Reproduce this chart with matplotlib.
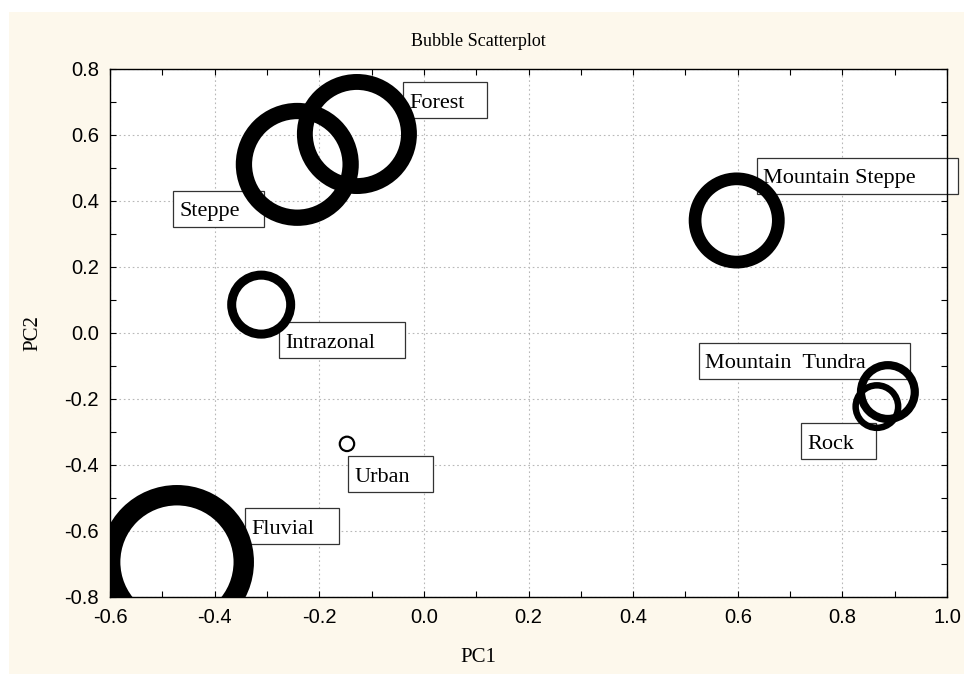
import matplotlib
matplotlib.use("Agg")
import matplotlib.pyplot as plt
from matplotlib.patches import Rectangle
from matplotlib.transforms import IdentityTransform
from matplotlib.ticker import MultipleLocator, FormatStrFormatter

# Habitat groups in the space of the first two principal components
categories = ["Forest", "Steppe", "Mountain Steppe", "Intrazonal", "Urban",
              "Fluvial", "Mountain  Tundra", "Rock"]
pc1 = [-0.128, -0.242, 0.598, -0.311, -0.147, -0.472, 0.887, 0.866]
pc2 = [0.603, 0.511, 0.341, 0.086, -0.336, -0.694, -0.179, -0.223]
bubble_size = [60.0, 61.5, 48.0, 34.0, 8.3, 77.0, 31.0, 24.5]

x_ticks = [-0.6, -0.4, -0.2, 0.0, 0.2, 0.4, 0.6, 0.8, 1.0]
y_ticks = [-0.8, -0.6, -0.4, -0.2, 0.0, 0.2, 0.4, 0.6, 0.8]

# Label box placement relative to each bubble centre, in pixels:
# (left edge of box, vertical centre of box); y measured upwards
label_offsets = {
    "Forest": (46, 34),
    "Steppe": (-124, -44.5),
    "Mountain Steppe": (20.5, 44.5),
    "Intrazonal": (18, -35.5),
    "Urban": (1.3, -30.5),
    "Fluvial": (68, 36),
    "Mountain  Tundra": (-188.5, 31.5),
    "Rock": (-75.5, -34.5),
}

W, H, DPI = 964, 674, 100
PX2PT = 72.0 / DPI
BG = "#FDF8EC"
SERIF = ["Liberation Serif", "DejaVu Serif"]
SANS = ["Liberation Sans", "DejaVu Sans"]

fig = plt.figure(figsize=(W / DPI, H / DPI), dpi=DPI, facecolor="white")
# beige graph window
fig.add_artist(Rectangle((9 / W, 0), 1 - 9 / W, 1 - 12 / H, transform=fig.transFigure,
                         facecolor=BG, edgecolor="none", zorder=-10))

left, right, top, bottom = 110, 947, 69, 597
ax = fig.add_axes([left / W, 1 - bottom / H, (right - left) / W, (bottom - top) / H])
ax.set_facecolor("white")
ax.set_xlim(-0.6, 1.0)
ax.set_ylim(-0.8, 0.8)

ax.set_xticks(x_ticks)
ax.set_yticks(y_ticks)
ax.xaxis.set_minor_locator(MultipleLocator(0.1))
ax.yaxis.set_minor_locator(MultipleLocator(0.1))
ax.xaxis.set_major_formatter(FormatStrFormatter("%.1f"))
ax.yaxis.set_major_formatter(FormatStrFormatter("%.1f"))
ax.tick_params(which="both", direction="in", top=True, right=True, color="black", width=0.8)
ax.tick_params(which="major", length=4, labelsize=14.5, pad=8)
ax.tick_params(which="minor", length=4)
for lab in ax.get_xticklabels() + ax.get_yticklabels():
    lab.set_family(SANS)
ax.grid(True, which="major", linestyle=(0, (1.5, 2.5)), color="#b8b8b8", linewidth=0.8)
ax.set_axisbelow(True)
for sp in ax.spines.values():
    sp.set_color("black")
    sp.set_linewidth(1.0)

# bubbles: thick open rings whose outer radius follows the bubble size
for x, y, r in zip(pc1, pc2, bubble_size):
    thick = 0.265 * r
    mid_r = r - thick / 2
    ax.scatter([x], [y], s=(2 * mid_r * PX2PT) ** 2, marker="o", facecolors="none",
               edgecolors="black", linewidths=thick * PX2PT, zorder=3)

texts = []
for name, x, y in zip(categories, pc1, pc2):
    dx, dy = label_offsets[name]
    t = ax.annotate(name, (x, y), xytext=(dx + 6, dy - 3), textcoords="offset pixels",
                    ha="left", va="center", fontsize=16, family=SERIF,
                    color="black", zorder=5, annotation_clip=False)
    texts.append((t, x, y, dx, dy))

fig.text(478 / W, 1 - 42 / H, "Bubble Scatterplot", ha="center", va="center",
         fontsize=13, family=SERIF)
fig.text(478 / W, 1 - 658 / H, "PC1", ha="center", va="center", fontsize=15, family=SERIF)
fig.text(33 / W, 1 - 333 / H, "PC2", ha="center", va="center", rotation=90,
         fontsize=15, family=SERIF)

# frame each label with a box sized from its rendered text,
# beneath the rings and the label text
fig.canvas.draw()
renderer = fig.canvas.get_renderer()
for t, x, y, dx, dy in texts:
    bb = t.get_window_extent(renderer)
    px, py = ax.transData.transform((x, y))
    box_left = px + dx
    box_w = 6 + bb.width + 12 + 0.2 * bb.width
    box_h = 36
    ax.add_patch(Rectangle((box_left, py + dy - box_h / 2), box_w, box_h,
                           transform=IdentityTransform(), facecolor="white",
                           edgecolor="#333333", linewidth=0.9, zorder=2.5,
                           clip_on=False))

fig.savefig("out.png", dpi=DPI, facecolor="white")
